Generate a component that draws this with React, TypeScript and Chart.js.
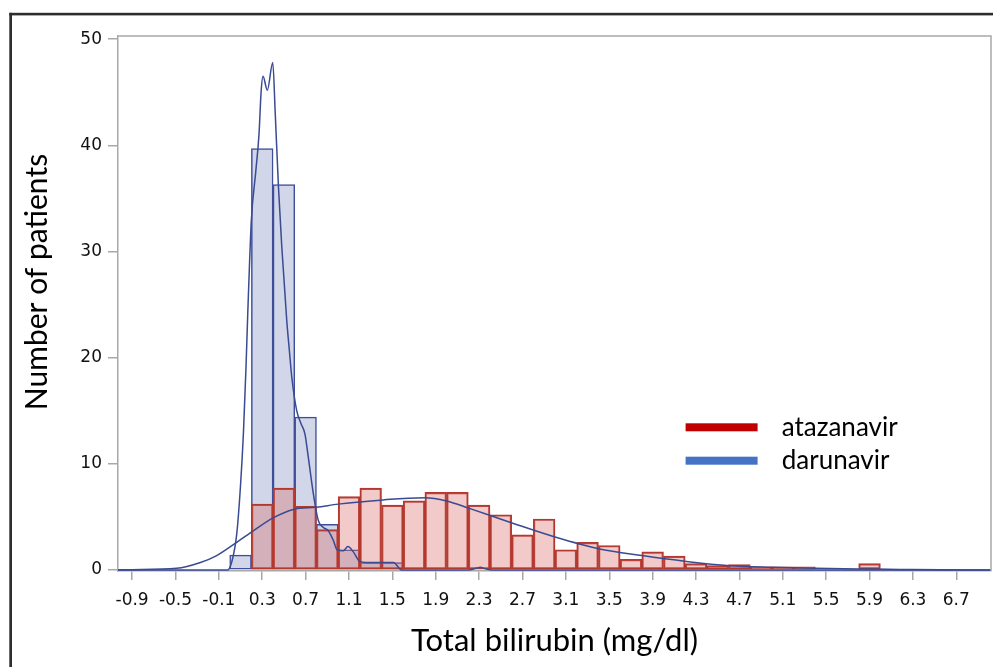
import React, { useEffect, useRef } from 'react';
import { Chart, registerables } from 'chart.js';

Chart.register(...registerables);

const seriesNames = ['atazanavir', 'darunavir'];

const darunavirBins = [0.1, 0.3, 0.5, 0.7, 0.9, 1.1, 1.3, 1.5];
const darunavirCounts = [1.4, 39.7, 36.3, 14.4, 4.3, 1.9, 0.7, 0.7];

const atazanavirBins = [0.3, 0.5, 0.7, 0.9, 1.1, 1.3, 1.5, 1.7, 1.9, 2.1, 2.3, 2.5, 2.7, 2.9, 3.1, 3.3, 3.5, 3.7, 3.9, 4.1, 4.3, 4.5, 4.7, 4.9, 5.1, 5.3, 5.9];
const atazanavirCounts = [6.2, 7.7, 6.0, 3.8, 6.9, 7.7, 6.1, 6.5, 7.3, 7.3, 6.1, 5.2, 3.3, 4.8, 1.9, 2.6, 2.3, 1.0, 1.7, 1.3, 0.6, 0.4, 0.5, 0.3, 0.3, 0.3, 0.6];

const darunavirKdeX = [-1.03, -0.02, 0.02, 0.065, 0.1, 0.127, 0.15, 0.166, 0.2, 0.24, 0.27, 0.29, 0.307, 0.347, 0.397, 0.42, 0.45, 0.48, 0.526, 0.55, 0.572, 0.618, 0.657, 0.694, 0.725, 0.771, 0.817, 0.863, 0.909, 0.955, 0.99, 1.047, 1.09, 1.14, 1.2, 1.26, 1.51, 1.585, 2.2, 2.27, 2.31, 2.36, 2.42, 7.02];
const darunavirKdeY = [0, 0, 0.8, 3.4, 8, 13, 19, 24, 33, 37.5, 41, 45.1, 46.5, 45.2, 47.8, 43, 36, 30.5, 23.5, 20.7, 18.2, 15.0, 13.8, 12.8, 10.6, 7.2, 4.65, 4.0, 3.7, 2.8, 1.9, 1.8, 2.2, 1.7, 0.8, 0.7, 0.7, 0, 0, 0.15, 0.25, 0.1, 0, 0];

const atazanavirKdeX = [-1.03, -0.9, -0.49, -0.27, -0.12, 0.065, 0.22, 0.4, 0.587, 0.8, 1.0, 1.415, 1.8, 2.0, 2.21, 2.61, 3.0, 3.4, 3.8, 4.21, 4.61, 5.0, 5.4, 5.8, 6.18, 6.82, 7.02];
const atazanavirKdeY = [0, 0.02, 0.15, 0.7, 1.35, 2.6, 3.7, 4.9, 5.7, 5.9, 6.2, 6.6, 6.8, 6.5, 5.8, 4.4, 3.1, 2.0, 1.35, 0.8, 0.4, 0.25, 0.15, 0.1, 0.05, 0, 0];

const xTickValues = [-0.9, -0.5, -0.1, 0.3, 0.7, 1.1, 1.5, 1.9, 2.3, 2.7, 3.1, 3.5, 3.9, 4.3, 4.7, 5.1, 5.5, 5.9, 6.3, 6.7];
const xTickLabels = ['-0.9', '-0.5', '-0.1', '0.3', '0.7', '1.1', '1.5', '1.9', '2.3', '2.7', '3.1', '3.5', '3.9', '4.3', '4.7', '5.1', '5.5', '5.9', '6.3', '6.7'];
const yTickValues = [0, 10, 20, 30, 40, 50];
const yTickLabels = ['0', '10', '20', '30', '40', '50'];

const xTitle = 'Total bilirubin (mg/dl)';
const yTitle = 'Number of patients';

const legendColors = ['#C00000', '#4472C4'];

const decorPlugin = {
  id: 'decor',
  beforeDraw(chart: any) {
    const { ctx } = chart;
    ctx.save();
    ctx.fillStyle = '#ffffff';
    ctx.fillRect(0, 0, chart.width, chart.height);
    ctx.restore();
  },
  afterDraw(chart: any) {
    const { ctx, chartArea: a } = chart;
    ctx.save();
    // plot box top/right
    ctx.strokeStyle = '#A8A8A8';
    ctx.lineWidth = 1.5;
    ctx.beginPath();
    ctx.moveTo(a.left, a.top);
    ctx.lineTo(a.right, a.top);
    ctx.lineTo(a.right, a.bottom);
    ctx.stroke();
    // outer frame
    ctx.fillStyle = '#2e2e2e';
    ctx.fillRect(9.3, 12.8, chart.width, 2.6);
    ctx.fillRect(9.3, 12.8, 2.7, chart.height);
    // axis titles
    ctx.fillStyle = '#000';
    ctx.textAlign = 'center';
    ctx.textBaseline = 'alphabetic';
    ctx.font = '31px Lato';
    ctx.fillText(xTitle, (a.left + a.right) / 2, 651);
    ctx.save();
    ctx.font = '30px Lato';
    ctx.translate(47, 282);
    ctx.rotate(-Math.PI / 2);
    ctx.fillText(yTitle, 0, 0);
    ctx.restore();
    // legend
    ctx.textAlign = 'left';
    ctx.font = '26px Lato';
    const rows = [427.3, 460.7];
    seriesNames.forEach((name, i) => {
      ctx.fillStyle = legendColors[i];
      ctx.fillRect(685.6, rows[i] - 4, 72, 8);
      ctx.fillStyle = '#000';
      ctx.fillText(name, 781.7, rows[i] + 8.7);
    });
    ctx.restore();
  },
};

export default function App() {
  const ref = useRef<HTMLCanvasElement>(null);
  useEffect(() => {
    if (!ref.current) return;
    const chart = new Chart(ref.current, {
      type: 'bar',
      data: {
        datasets: [
          {
            type: 'line',
            label: seriesNames[1] + ' density',
            data: darunavirKdeX.map((x, i) => ({ x, y: darunavirKdeY[i] })),
            borderColor: '#3A4A93',
            borderWidth: 1.5,
            pointRadius: 0,
            cubicInterpolationMode: 'monotone',
            order: 0,
          } as any,
          {
            type: 'line',
            label: seriesNames[0] + ' density',
            data: atazanavirKdeX.map((x, i) => ({ x, y: atazanavirKdeY[i] })),
            borderColor: '#3A4A93',
            borderWidth: 1.5,
            pointRadius: 0,
            cubicInterpolationMode: 'monotone',
            order: 1,
          } as any,
          {
            type: 'bar',
            label: seriesNames[0],
            data: atazanavirBins.map((x, i) => ({ x, y: atazanavirCounts[i] })),
            backgroundColor: 'rgba(219,108,108,0.36)',
            borderColor: '#B3392E',
            borderWidth: 1.5,
            borderSkipped: false,
            grouped: false,
            barPercentage: 1,
            categoryPercentage: 1,
            order: 2,
          } as any,
          {
            type: 'bar',
            label: seriesNames[1],
            data: darunavirBins.map((x, i) => ({ x, y: darunavirCounts[i] })),
            backgroundColor: '#D1D7E8',
            borderColor: '#3E4E9A',
            borderWidth: 1.5,
            borderSkipped: false,
            grouped: false,
            barPercentage: 1,
            categoryPercentage: 1,
            order: 3,
          } as any,
        ],
      },
      options: {
        responsive: false,
        animation: false,
        layout: { padding: { top: 36, right: 2, left: 0, bottom: 0 } },
        plugins: { legend: { display: false }, tooltip: { enabled: false } },
        scales: {
          x: {
            type: 'linear',
            min: -1.03,
            max: 7.02,
            offset: false,
            afterBuildTicks: (scale: any) => {
              scale.ticks = xTickValues.map((v) => ({ value: v }));
            },
            afterFit: (scale: any) => {
              scale.height = 96;
            },
            grid: {
              offset: false,
              drawOnChartArea: false,
              drawTicks: true,
              tickLength: 9,
              color: '#A8A8A8',
              lineWidth: 1.5,
            },
            border: { display: true, color: '#A8A8A8', width: 1.5 },
            ticks: {
              autoSkip: false,
              maxRotation: 0,
              padding: 10,
              color: '#111',
              font: { family: 'DejaVu Sans', size: 17 },
              callback: (_v: any, i: number) => xTickLabels[i],
            },
          },
          y: {
            type: 'linear',
            min: -0.1,
            max: 50.3,
            afterBuildTicks: (scale: any) => {
              scale.ticks = yTickValues.map((v) => ({ value: v }));
            },
            afterFit: (scale: any) => {
              scale.width = 118;
            },
            grid: {
              drawOnChartArea: false,
              drawTicks: true,
              tickLength: 10,
              color: '#A8A8A8',
              lineWidth: 1.5,
            },
            border: { display: true, color: '#A8A8A8', width: 1.5 },
            ticks: {
              padding: 6,
              color: '#111',
              font: { family: 'DejaVu Sans', size: 17 },
              callback: (_v: any, i: number) => yTickLabels[i],
            },
          },
        },
      } as any,
      plugins: [decorPlugin],
    });
    return () => chart.destroy();
  }, []);
  return (
    <div style={{ position: 'absolute', left: 0, top: 0, width: 993, height: 667 }}>
      <canvas ref={ref} width={993} height={667} style={{ display: 'block' }} />
    </div>
  );
}
